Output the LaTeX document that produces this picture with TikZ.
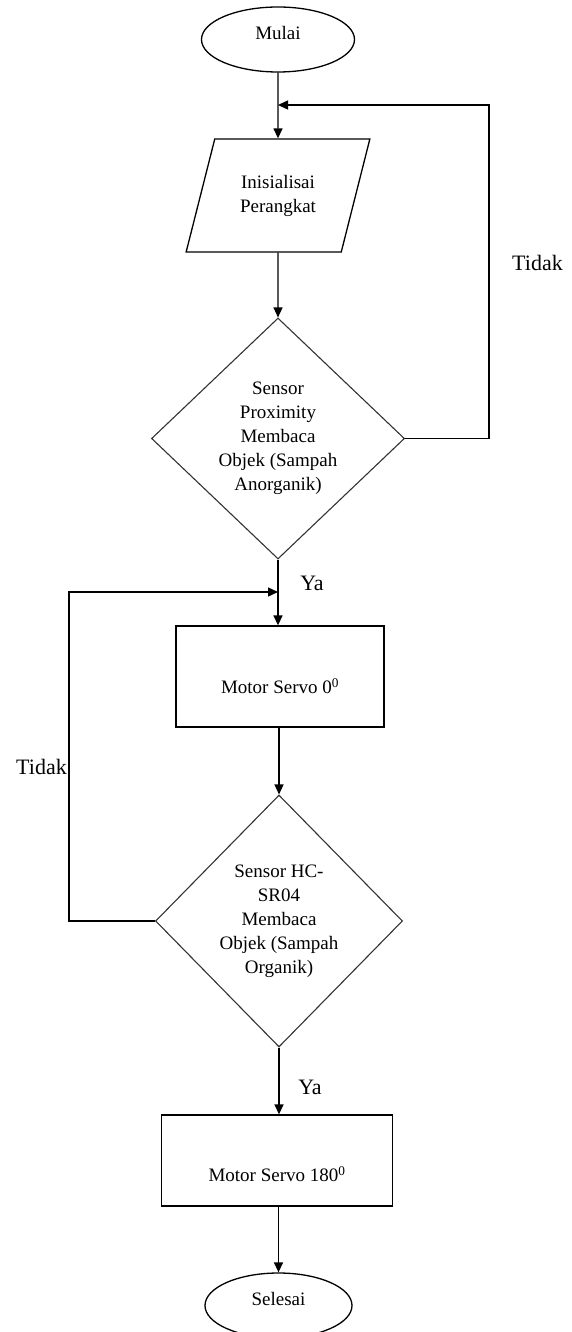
\documentclass[tikz,border=0pt]{standalone}
\usepackage{fontspec}
\setmainfont{Liberation Serif}
\usetikzlibrary{shapes.geometric,arrows.meta}
\begin{document}
\begin{tikzpicture}[x=1pt,y=1pt,
  base/.style={draw=black,line width=1.3pt,inner sep=0pt,font=\fontsize{19}{24}\selectfont,align=center},
  term/.style={base,ellipse,minimum width=153pt,minimum height=65pt,text height=10pt,text depth=10pt},
  io/.style={base,trapezium,trapezium left angle=67.4,trapezium right angle=112.6,trapezium stretches=true,minimum width=184pt,minimum height=113pt},
  decision/.style={base,diamond,line width=1.1pt,draw=black!80},
  process/.style={base,rectangle,text depth=0pt},
  arr/.style={line width=1.4pt,-{Triangle[length=10pt,width=9pt]}},
  lbl/.style={font=\fontsize{22}{26}\selectfont,inner sep=0pt}]
\useasboundingbox (0,0) rectangle (571,-1332);
\node[term] (mulai) at (278,-39.5) {Mulai};
\node[io] (init) at (278,-195.5) {Inisialisai\\Perangkat};
\node[decision,minimum width=253pt,minimum height=241pt] (d1) at (278,-438.5) {Sensor\\Proximity\\Membaca\\Objek (Sampah\\Anorganik)};
\node[process,minimum width=208pt,minimum height=101pt,text height=34pt] (r1) at (280,-676.5) {Motor Servo 0\textsuperscript{0}};
\node[decision,minimum width=247pt,minimum height=252pt] (d2) at (279,-921) {Sensor HC-\\SR04\\Membaca\\Objek (Sampah\\Organik)};
\node[process,minimum width=231pt,minimum height=91pt,text height=42pt] (r2) at (277,-1160.5) {Motor Servo 180\textsuperscript{0}};
\node[term,minimum width=147pt] (sel) at (278.5,-1305.5) {Selesai};
\node[lbl] (t1) at (537.5,-263) {Tidak};
\node[lbl] (t2) at (41.5,-767) {Tidak};
\node[lbl] (y1) at (312,-583) {Ya};
\node[lbl] (y2) at (310,-1087) {Ya};
\coordinate (j1) at (278,-105);
\coordinate (cR) at (489,-105);
\coordinate (j2) at (278,-592);
\coordinate (cL) at (69,-592);
\draw[arr] (mulai.south) -- (init.north);
\draw[arr] (d1.east) -| (cR) -- (j1);
\draw[arr] (init.south) -- (d1.north);
\draw[arr] (d1.south) -- (d1.south |- r1.north);
\draw[arr] (d2.west) -| (cL) -- (j2);
\draw[arr] (d2.north |- r1.south) -- (d2.north);
\draw[arr] (d2.south) -- (d2.south |- r2.north);
\draw[arr] (sel.north |- r2.south) -- (sel.north);
\end{tikzpicture}
\end{document}
